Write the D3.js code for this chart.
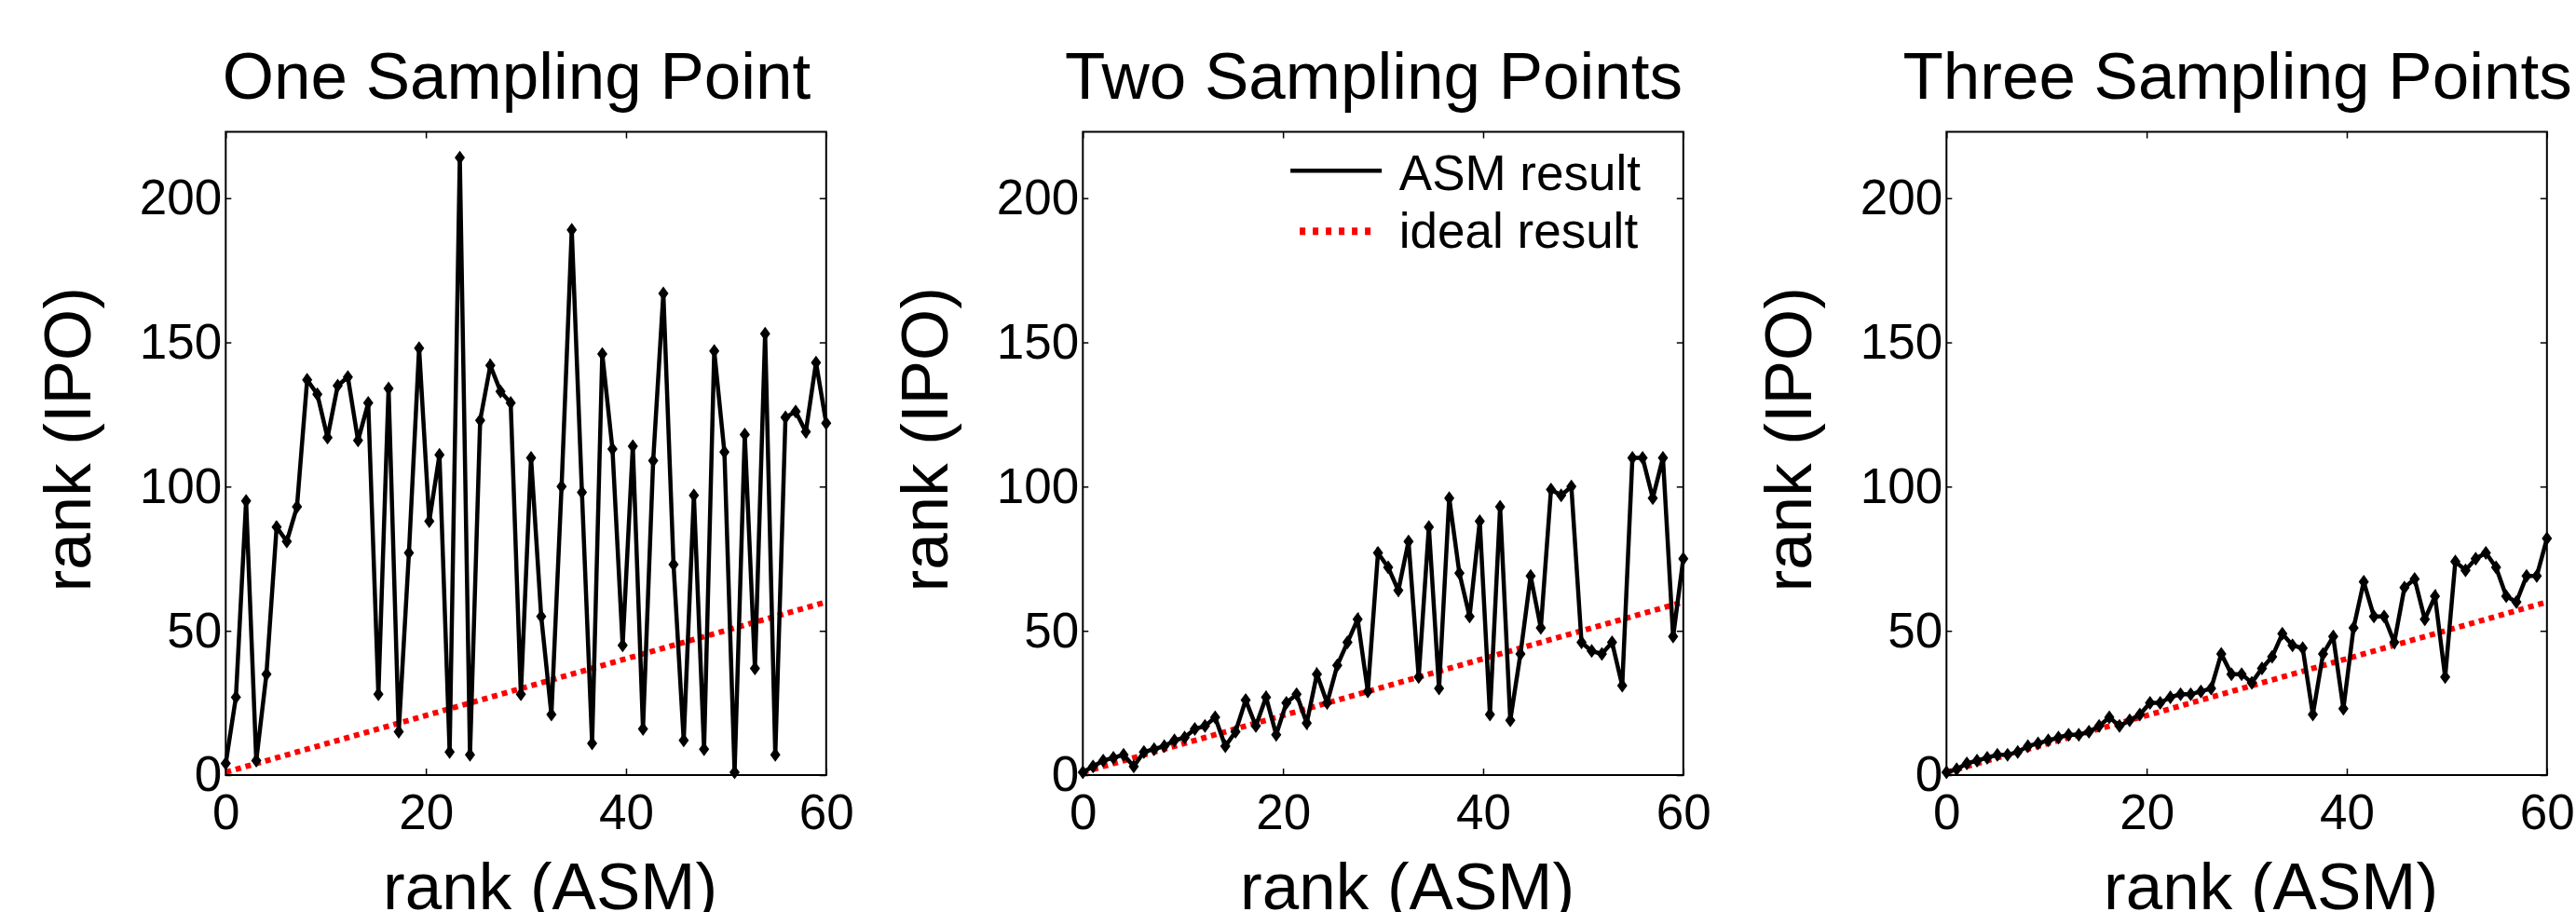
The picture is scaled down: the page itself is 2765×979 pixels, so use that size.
<!DOCTYPE html>
<html lang="en">
<head>
  <meta charset="UTF-8">
  <title>ASM vs IPO rank</title>
  <style>
    body {
      margin: 0;
      background: #fff;
      overflow: hidden;
    }
    svg text {
      font-family: "Liberation Sans", Arial, sans-serif;
      fill: #000;
    }
    .tick line {
      stroke: #000;
      stroke-width: 1.5;
    }
  </style>
</head>
<body>
  <svg></svg>
</body>
<script src="https://cdn.jsdelivr.net/npm/d3@7"></script>
<script>
  var width = 2765
  var height = 979

  var titles = ['One Sampling Point', 'Two Sampling Points', 'Three Sampling Points']
  var xTicks = [0, 20, 40, 60]
  var yTicks = [0, 50, 100, 150, 200]
  var xLabel = 'rank (ASM)'
  var yLabel = 'rank (IPO)'
  var legendLabels = ['ASM result', 'ideal result']

  // rank given by ASM (x) and the ideal IPO rank for it
  var ranks = [1, 2, 3, 4, 5, 6, 7, 8, 9, 10, 11, 12, 13, 14, 15, 16, 17, 18, 19, 20,
    21, 22, 23, 24, 25, 26, 27, 28, 29, 30, 31, 32, 33, 34, 35, 36, 37, 38, 39, 40,
    41, 42, 43, 44, 45, 46, 47, 48, 49, 50, 51, 52, 53, 54, 55, 56, 57, 58, 59, 60]
  var ideal = ranks

  var oneSampling = [4, 27, 95, 5, 35, 86, 81, 93, 137, 132, 117, 135, 138, 116, 129, 28, 134, 15, 77, 148,
    88, 111, 8, 214, 7, 123, 142, 133, 129, 28, 110, 55, 21, 100, 189, 98, 11, 146, 113, 45,
    114, 16, 109, 167, 73, 12, 97, 9, 147, 112, 1, 118, 37, 153, 7, 124, 126, 119, 143, 122]
  var twoSampling = [1, 3, 5, 6, 7, 3, 8, 9, 10, 12, 13, 16, 17, 20, 10, 15, 26, 17, 27, 14,
    25, 28, 18, 35, 25, 38, 46, 54, 29, 77, 72, 64, 81, 34, 86, 30, 96, 70, 55, 88,
    21, 93, 19, 42, 69, 51, 99, 97, 100, 46, 43, 42, 46, 31, 110, 110, 96, 110, 48, 75]
  var threeSampling = [1, 2, 4, 5, 6, 7, 7, 8, 10, 11, 12, 13, 14, 14, 15, 17, 20, 17, 19, 21,
    25, 25, 27, 28, 28, 29, 30, 42, 35, 35, 32, 37, 41, 49, 45, 44, 21, 42, 48, 23,
    51, 67, 55, 55, 46, 65, 68, 54, 62, 34, 74, 71, 75, 77, 72, 62, 60, 69, 69, 82]

  var series = [oneSampling, twoSampling, threeSampling]

  var panelLefts = [242.3, 1162.3, 2089.3]
  var panelW = 644.5
  var plotTop = 141.5
  var plotBottom = 832

  var svg = d3.select('svg')
    .attr('width', width)
    .attr('height', height)

  svg.append('rect')
    .attr('width', width)
    .attr('height', height)
    .attr('fill', '#fff')

  var diamond = 'M0,-7.5L5.5,0L0,7.5L-5.5,0Z'

  series.forEach(function(values, i) {
    var left = panelLefts[i]
    var right = left + panelW
    var x = d3.scaleLinear().domain([0, 60]).range([left, right])
    var y = d3.scaleLinear().domain([0, 223]).range([plotBottom, plotTop])
    // ranks are spread over the full x range
    var xr = d3.scaleLinear().domain([1, 60]).range([x(0), x(60)])

    var g = svg.append('g')

    // axes with inward ticks on all four sides
    g.append('g')
      .attr('transform', `translate(0,${plotBottom})`)
      .call(d3.axisBottom(x).tickValues(xTicks).tickSize(-7).tickPadding(20))
      .call(a => a.select('.domain').remove())
    g.append('g')
      .attr('transform', `translate(0,${plotTop})`)
      .call(d3.axisTop(x).tickValues(xTicks).tickSize(-7).tickFormat(''))
      .call(a => a.select('.domain').remove())
    g.append('g')
      .attr('transform', `translate(${left},0)`)
      .call(d3.axisLeft(y).tickValues(yTicks).tickSize(-6).tickPadding(4))
      .call(a => a.select('.domain').remove())
    g.append('g')
      .attr('transform', `translate(${right},0)`)
      .call(d3.axisRight(y).tickValues(yTicks).tickSize(-7).tickFormat(''))
      .call(a => a.select('.domain').remove())
    g.selectAll('.tick text')
      .attr('font-size', 53)
      .attr('font-family', '"Liberation Sans", Arial, sans-serif')

    var line = d3.line()
      .x((d, j) => xr(ranks[j]))
      .y(d => y(d))

    g.append('path')
      .datum(ideal)
      .attr('d', line)
      .attr('fill', 'none')
      .attr('stroke', '#ff0000')
      .attr('stroke-width', 6)
      .attr('stroke-dasharray', '6 5')

    g.append('path')
      .datum(values)
      .attr('d', line)
      .attr('fill', 'none')
      .attr('stroke', '#000')
      .attr('stroke-width', 4.5)
      .attr('stroke-linejoin', 'miter')

    g.selectAll('path.marker')
      .data(values)
      .enter()
      .append('path')
      .attr('class', 'marker')
      .attr('d', diamond)
      .attr('transform', (d, j) => `translate(${xr(ranks[j])},${y(d)})`)
      .attr('fill', '#000')

    g.append('rect')
      .attr('x', left)
      .attr('y', plotTop)
      .attr('width', panelW)
      .attr('height', plotBottom - plotTop)
      .attr('fill', 'none')
      .attr('stroke', '#000')
      .attr('stroke-width', 2)

    g.append('text')
      .attr('x', left + panelW / 2 - 10)
      .attr('y', 106)
      .attr('text-anchor', 'middle')
      .attr('font-size', 71)
      .text(titles[i])

    g.append('text')
      .attr('x', left + panelW / 2 + 26)
      .attr('y', 976)
      .attr('text-anchor', 'middle')
      .attr('font-size', 71)
      .text(xLabel)

    g.append('text')
      .attr('transform', `translate(${left - 145.6},${(plotTop + plotBottom) / 2 - 15}) rotate(-90)`)
      .attr('text-anchor', 'middle')
      .attr('font-size', 71)
      .text(yLabel)

    if (i == 1) {
      var leg = g.append('g')
      leg.append('line')
        .attr('x1', right - 421.7).attr('x2', right - 323.7)
        .attr('y1', 183.3).attr('y2', 183.3)
        .attr('stroke', '#000')
        .attr('stroke-width', 4.5)
      leg.append('line')
        .attr('x1', right - 411.7).attr('x2', right - 328.4)
        .attr('y1', 248.3).attr('y2', 248.3)
        .attr('stroke', '#ff0000')
        .attr('stroke-width', 8)
        .attr('stroke-dasharray', '6 8')
      leg.selectAll('text')
        .data(legendLabels)
        .enter()
        .append('text')
        .attr('x', right - 305)
        .attr('y', (d, j) => j == 0 ? 204 : 266)
        .attr('font-size', 53)
        .text(d => d)
    }
  })
</script>
</html>
